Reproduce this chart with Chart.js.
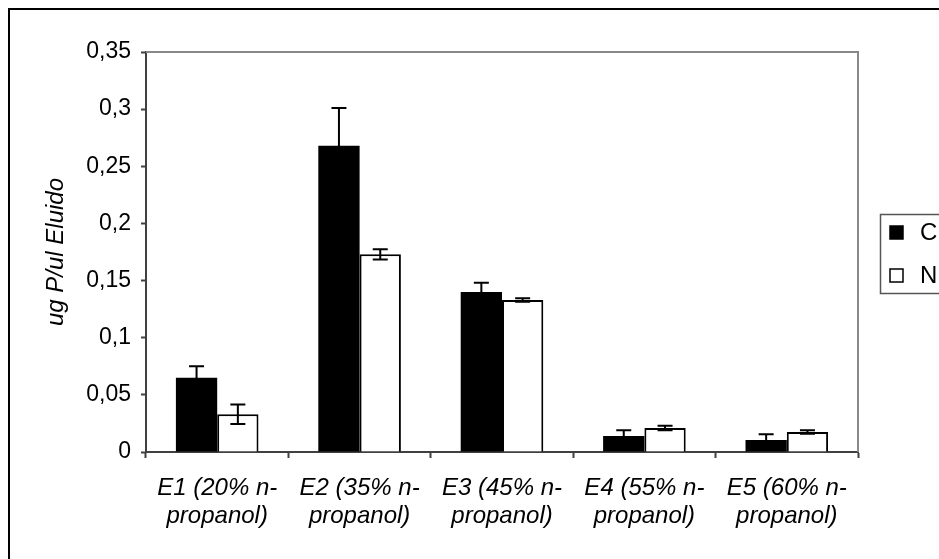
<!DOCTYPE html>
<html>
<head>
<meta charset="utf-8">
<script src="https://cdn.jsdelivr.net/npm/chart.js@4.4.1/dist/chart.umd.min.js"></script>
<style>
  html, body { margin: 0; padding: 0; background: #fff; overflow: hidden; }
  #wrap { width: 939px; height: 559px; position: relative; }
</style>
</head>
<body>
<div id="wrap"><canvas id="chart" width="939" height="559"></canvas></div>
<script>
const categories = [
  ['E1 (20% n-', 'propanol)'],
  ['E2 (35% n-', 'propanol)'],
  ['E3 (45% n-', 'propanol)'],
  ['E4 (55% n-', 'propanol)'],
  ['E5 (60% n-', 'propanol)']
];
const seriesNames = ['C', 'N'];
const valuesC = [0.065, 0.268, 0.140, 0.014, 0.0105];
const errorsC = [0.010, 0.033, 0.008, 0.005, 0.005];
const valuesN = [0.033, 0.173, 0.133, 0.021, 0.0175];
const errorsN = [0.0085, 0.0045, 0.0015, 0.002, 0.0015];
const yTickValues = [0, 0.05, 0.1, 0.15, 0.2, 0.25, 0.3, 0.35];
const yTickLabels = ['0', '0,05', '0,1', '0,15', '0,2', '0,25', '0,3', '0,35'];
const yTitle = 'ug P/ul Eluido';

const FONT = "'Liberation Sans', Arial, sans-serif";

// error bars, frame round the plot, outer frame and the legend box
const decorations = {
  id: 'decorations',
  afterDatasetsDraw(chart) {
    const ctx = chart.ctx;
    const y = chart.scales.y;
    const area = chart.chartArea;
    const errs = [errorsC, errorsN];

    ctx.save();
    ctx.strokeStyle = '#000';
    ctx.lineWidth = 2;
    chart.data.datasets.forEach((ds, i) => {
      const meta = chart.getDatasetMeta(i);
      meta.data.forEach((bar, j) => {
        const v = ds.data[j];
        const e = errs[i][j];
        const yt = y.getPixelForValue(v + e);
        const yb = y.getPixelForValue(v - e);
        const x = bar.x;
        ctx.beginPath();
        ctx.moveTo(x, yt); ctx.lineTo(x, yb);
        ctx.moveTo(x - 7.5, yt); ctx.lineTo(x + 7.5, yt);
        ctx.moveTo(x - 7.5, yb); ctx.lineTo(x + 7.5, yb);
        ctx.stroke();
      });
    });

    // top and right border of the plot area
    ctx.strokeStyle = '#888';
    ctx.lineWidth = 2;
    ctx.beginPath();
    ctx.moveTo(area.left, area.top);
    ctx.lineTo(area.right, area.top);
    ctx.lineTo(area.right, area.bottom);
    ctx.stroke();

    // outer frame (runs off the right and bottom edge)
    ctx.strokeStyle = '#000';
    ctx.lineWidth = 2;
    ctx.strokeRect(9, 9, 1100, 1100);

    // legend box
    ctx.strokeStyle = '#555';
    ctx.lineWidth = 1.5;
    ctx.strokeRect(880.5, 214.5, 120, 79);
    ctx.font = '24px ' + FONT;
    ctx.textBaseline = 'middle';
    const rows = [232.5, 275.5];
    chart.data.datasets.forEach((ds, i) => {
      const cy = rows[i];
      ctx.fillStyle = ds.backgroundColor;
      ctx.fillRect(890, cy - 6.5, 13, 13);
      ctx.strokeStyle = '#000';
      ctx.lineWidth = 1.5;
      ctx.strokeRect(890, cy - 6.5, 13, 13);
      ctx.fillStyle = '#000';
      ctx.fillText(ds.label, 920, cy + 1);
    });
    ctx.restore();
  }
};

new Chart(document.getElementById('chart'), {
  type: 'bar',
  data: {
    labels: categories,
    datasets: [
      {
        label: seriesNames[0],
        data: valuesC,
        backgroundColor: '#000',
        borderColor: '#000',
        borderWidth: 0
      },
      {
        label: seriesNames[1],
        data: valuesN,
        backgroundColor: '#fff',
        borderColor: '#000',
        borderWidth: 2
      }
    ]
  },
  options: {
    responsive: false,
    animation: false,
    events: [],
    layout: { padding: { left: 0, top: 52, right: 81, bottom: 0 } },
    datasets: { bar: { categoryPercentage: 0.58, barPercentage: 1.0 } },
    plugins: {
      legend: { display: false },
      tooltip: { enabled: false }
    },
    scales: {
      x: {
        afterFit(scale) { scale.height = 107; },
        grid: {
          offset: true,
          drawOnChartArea: false,
          tickLength: 6,
          tickColor: '#404040',
          tickWidth: 2
        },
        border: { color: '#404040', width: 2 },
        ticks: {
          color: '#000',
          padding: 17,
          maxRotation: 0,
          autoSkip: false,
          font: { family: FONT, size: 24, style: 'italic', lineHeight: 1.15 }
        }
      },
      y: {
        min: 0,
        max: 0.35,
        afterFit(scale) { scale.width = 146; },
        afterBuildTicks(scale) {
          scale.ticks = yTickValues.map(v => ({ value: v }));
        },
        grid: {
          drawOnChartArea: false,
          tickLength: 5,
          tickColor: '#404040',
          tickWidth: 2
        },
        border: { color: '#404040', width: 2 },
        ticks: {
          color: '#000',
          padding: 10,
          font: { family: FONT, size: 23 },
          callback: (value, index) => yTickLabels[index]
        },
        title: {
          display: true,
          text: yTitle,
          color: '#000',
          padding: { top: 42, bottom: 0 },
          font: { family: FONT, size: 24, style: 'italic', lineHeight: 1.2 }
        }
      }
    }
  },
  plugins: [decorations]
});
</script>
</body>
</html>
